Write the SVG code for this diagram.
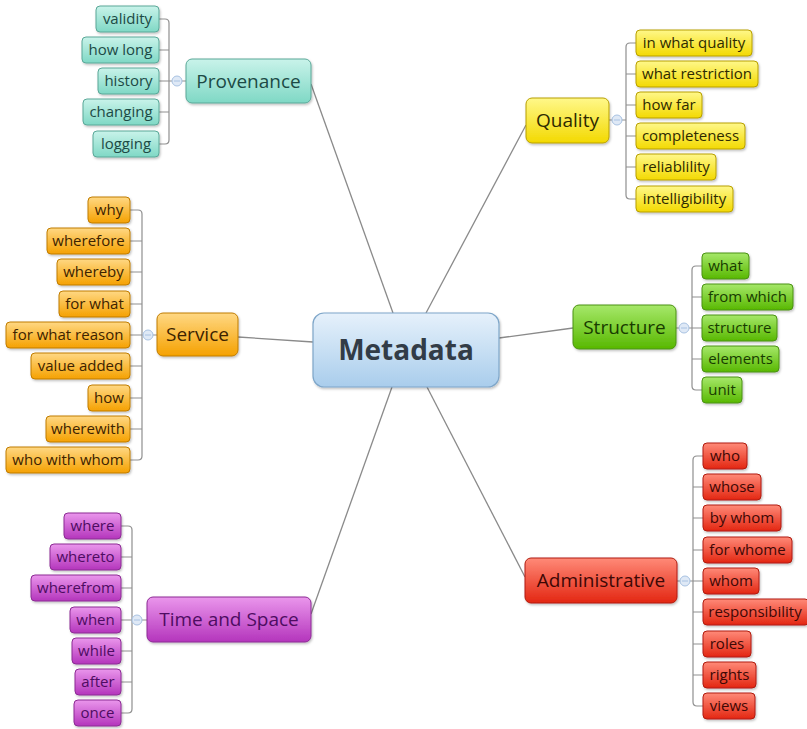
<svg xmlns="http://www.w3.org/2000/svg" width="807" height="729" viewBox="0 0 807 729">
<defs>
<linearGradient id="gTeal" x1="0" y1="0" x2="0" y2="1"><stop offset="0" stop-color="#c9f3ea"/><stop offset="1" stop-color="#7fd8c5"/></linearGradient>
<linearGradient id="gYel" x1="0" y1="0" x2="0" y2="1"><stop offset="0" stop-color="#fff88a"/><stop offset="1" stop-color="#f3d900"/></linearGradient>
<linearGradient id="gOra" x1="0" y1="0" x2="0" y2="1"><stop offset="0" stop-color="#ffd884"/><stop offset="1" stop-color="#f5a100"/></linearGradient>
<linearGradient id="gGrn" x1="0" y1="0" x2="0" y2="1"><stop offset="0" stop-color="#a6e86a"/><stop offset="1" stop-color="#58b800"/></linearGradient>
<linearGradient id="gRed" x1="0" y1="0" x2="0" y2="1"><stop offset="0" stop-color="#ff8a78"/><stop offset="1" stop-color="#e32612"/></linearGradient>
<linearGradient id="gPur" x1="0" y1="0" x2="0" y2="1"><stop offset="0" stop-color="#ea96ec"/><stop offset="1" stop-color="#b435bc"/></linearGradient>
<linearGradient id="gBlue" x1="0" y1="0" x2="0" y2="1"><stop offset="0" stop-color="#e6f1fb"/><stop offset="1" stop-color="#a9cdec"/></linearGradient>
<filter id="sh" x="-10%" y="-20%" width="130%" height="150%"><feDropShadow dx="1" dy="1.5" stdDeviation="1" flood-color="#000" flood-opacity="0.25"/></filter>
</defs>
<style>
text{font-family:"Open Sans","Liberation Sans",sans-serif;text-anchor:middle}
.c text{font-size:15px}
.t text{font-size:19px}
.c rect{filter:url(#sh);stroke-width:1}
.t rect{filter:url(#sh);stroke-width:1}
.teal rect{fill:url(#gTeal);stroke:#5aa898}
.teal text{fill:#1c4a45}
.yel rect{fill:url(#gYel);stroke:#b8a000}
.yel text{fill:#2e2a00}
.ora rect{fill:url(#gOra);stroke:#c07c00}
.ora text{fill:#3d2300}
.grn rect{fill:url(#gGrn);stroke:#4a9212}
.grn text{fill:#183c00}
.red rect{fill:url(#gRed);stroke:#b01c10}
.red text{fill:#3e0805}
.pur rect{fill:url(#gPur);stroke:#8c2a94}
.pur text{fill:#4e0c62}
.ln{fill:none;stroke:#8a8a8a;stroke-width:1.3}
.br{fill:none;stroke:#8f8f8f;stroke-width:1.2}
.knob circle{fill:#dfe9f6;stroke:#a8c2e2;stroke-width:1}
.knob line{stroke:#a8c2e2;stroke-width:1}
</style>

<g id="connectors">
<path class="ln" d="M311,84 L393,313"/>
<path class="ln" d="M526,125 L426,313"/>
<path class="ln" d="M238,337 L313,342"/>
<path class="ln" d="M573,328 L499,338"/>
<path class="ln" d="M311,614 L392,387"/>
<path class="ln" d="M525,577 L427,387"/>
<!-- Provenance bracket -->
<path class="br" d="M159,19 H165 Q169,19 169,23 V140 Q169,144 165,144 H159 M159,50 H169 M159,112 H169 M159,81 H186"/>
<!-- Quality bracket -->
<path class="br" d="M636,43 H630 Q626,43 626,47 V195 Q626,199 630,199 H636 M636,74 H626 M636,105 H626 M636,136 H626 M636,167 H626 M609,120 H626"/>
<!-- Service bracket -->
<path class="br" d="M130,210 H138 Q142,210 142,214 V456 Q142,460 138,460 H130 M130,241 H142 M130,272 H142 M130,304 H142 M130,366 H142 M130,398 H142 M130,429 H142 M130,335 H157"/>
<!-- Structure bracket -->
<path class="br" d="M702,266 H696 Q692,266 692,270 V386 Q692,390 696,390 H702 M702,297 H692 M702,359 H692 M676,328 H702"/>
<!-- Administrative bracket -->
<path class="br" d="M703,456 H697 Q693,456 693,460 V702 Q693,706 697,706 H703 M703,487 H693 M703,518 H693 M703,550 H693 M703,612 H693 M703,644 H693 M703,675 H693 M677,581 H703"/>
<!-- Time and Space bracket -->
<path class="br" d="M121,526 H128 Q132,526 132,530 V709 Q132,713 128,713 H121 M121,557 H132 M121,588 H132 M121,651 H132 M121,682 H132 M121,620 H147"/>
</g>

<g id="knobs" class="knob">
<circle cx="177" cy="81" r="5"/><line x1="174" y1="81" x2="180" y2="81"/>
<circle cx="617" cy="120" r="5"/><line x1="614" y1="120" x2="620" y2="120"/>
<circle cx="148" cy="335" r="5"/><line x1="145" y1="335" x2="151" y2="335"/>
<circle cx="684" cy="328" r="5"/><line x1="681" y1="328" x2="687" y2="328"/>
<circle cx="685" cy="581" r="5"/><line x1="682" y1="581" x2="688" y2="581"/>
<circle cx="137" cy="620" r="5"/><line x1="134" y1="620" x2="140" y2="620"/>
</g>

<g id="metadata">
<rect x="313" y="313" width="186" height="74" rx="11" fill="url(#gBlue)" stroke="#7ea6c9" stroke-width="1.2" filter="url(#sh)"/>
<text x="406" y="360" font-size="28" font-weight="bold" fill="#323c47">Metadata</text>
</g>

<g id="provenance" class="t teal"><rect x="186" y="59" width="125" height="44" rx="6"/><text x="248.5" y="88">Provenance</text></g>
<g id="quality" class="t yel"><rect x="526" y="98" width="83" height="45" rx="6"/><text x="567.5" y="127">Quality</text></g>
<g id="service" class="t ora"><rect x="157" y="313" width="81" height="43" rx="6"/><text x="197.5" y="341">Service</text></g>
<g id="structure" class="t grn"><rect x="573" y="305" width="103" height="44" rx="6"/><text x="624.5" y="334">Structure</text></g>
<g id="administrative" class="t red"><rect x="525" y="558" width="152" height="45" rx="6"/><text x="601" y="587">Administrative</text></g>
<g id="timeandspace" class="t pur"><rect x="147" y="597" width="164" height="45" rx="6"/><text x="229" y="626">Time and Space</text></g>

<g id="provenance-children" class="c teal">
<g id="p-validity"><rect x="96" y="6" width="63" height="26" rx="4"/><text x="127.5" y="24">validity</text></g>
<g id="p-howlong"><rect x="82" y="37" width="77" height="26" rx="4"/><text x="120.5" y="55">how long</text></g>
<g id="p-history"><rect x="98" y="68" width="61" height="26" rx="4"/><text x="128.5" y="86">history</text></g>
<g id="p-changing"><rect x="83" y="99" width="76" height="26" rx="4"/><text x="121" y="117">changing</text></g>
<g id="p-logging"><rect x="93" y="131" width="66" height="26" rx="4"/><text x="126" y="149">logging</text></g>
</g>

<g id="quality-children" class="c yel">
<g id="q-1"><rect x="636" y="30" width="116" height="26" rx="4"/><text x="694" y="48">in what quality</text></g>
<g id="q-2"><rect x="636" y="61" width="122" height="26" rx="4"/><text x="697" y="79">what restriction</text></g>
<g id="q-3"><rect x="636" y="92" width="66" height="26" rx="4"/><text x="669" y="110">how far</text></g>
<g id="q-4"><rect x="636" y="123" width="109" height="26" rx="4"/><text x="690.5" y="141">completeness</text></g>
<g id="q-5"><rect x="636" y="154" width="80" height="26" rx="4"/><text x="676" y="172">reliablility</text></g>
<g id="q-6"><rect x="636" y="186" width="97" height="26" rx="4"/><text x="684.5" y="204">intelligibility</text></g>
</g>

<g id="service-children" class="c ora">
<g id="s-1"><rect x="88" y="197" width="42" height="26" rx="4"/><text x="109" y="215">why</text></g>
<g id="s-2"><rect x="47" y="228" width="83" height="26" rx="4"/><text x="88.5" y="246">wherefore</text></g>
<g id="s-3"><rect x="57" y="259" width="73" height="26" rx="4"/><text x="93.5" y="277">whereby</text></g>
<g id="s-4"><rect x="59" y="291" width="71" height="26" rx="4"/><text x="94.5" y="309">for what</text></g>
<g id="s-5"><rect x="6" y="322" width="124" height="26" rx="4"/><text x="68" y="340">for what reason</text></g>
<g id="s-6"><rect x="31" y="353" width="99" height="26" rx="4"/><text x="80.5" y="371">value added</text></g>
<g id="s-7"><rect x="88" y="385" width="42" height="26" rx="4"/><text x="109" y="403">how</text></g>
<g id="s-8"><rect x="46" y="416" width="84" height="26" rx="4"/><text x="88" y="434">wherewith</text></g>
<g id="s-9"><rect x="6" y="447" width="124" height="26" rx="4"/><text x="68" y="465">who with whom</text></g>
</g>

<g id="structure-children" class="c grn">
<g id="st-1"><rect x="702" y="253" width="47" height="26" rx="4"/><text x="725.5" y="271">what</text></g>
<g id="st-2"><rect x="702" y="284" width="91" height="26" rx="4"/><text x="747.5" y="302">from which</text></g>
<g id="st-3"><rect x="702" y="315" width="75" height="26" rx="4"/><text x="739.5" y="333">structure</text></g>
<g id="st-4"><rect x="702" y="346" width="77" height="26" rx="4"/><text x="740.5" y="364">elements</text></g>
<g id="st-5"><rect x="702" y="377" width="40" height="26" rx="4"/><text x="722" y="395">unit</text></g>
</g>

<g id="administrative-children" class="c red">
<g id="a-1"><rect x="703" y="443" width="44" height="26" rx="4"/><text x="725" y="461">who</text></g>
<g id="a-2"><rect x="703" y="474" width="58" height="26" rx="4"/><text x="732" y="492">whose</text></g>
<g id="a-3"><rect x="703" y="505" width="78" height="26" rx="4"/><text x="742" y="523">by whom</text></g>
<g id="a-4"><rect x="703" y="537" width="89" height="26" rx="4"/><text x="747.5" y="555">for whome</text></g>
<g id="a-5"><rect x="703" y="568" width="56" height="26" rx="4"/><text x="731" y="586">whom</text></g>
<g id="a-6"><rect x="703" y="599" width="106" height="26" rx="4"/><text x="755" y="617">responsibility</text></g>
<g id="a-7"><rect x="703" y="631" width="48" height="26" rx="4"/><text x="727" y="649">roles</text></g>
<g id="a-8"><rect x="703" y="662" width="53" height="26" rx="4"/><text x="729.5" y="680">rights</text></g>
<g id="a-9"><rect x="703" y="693" width="52" height="26" rx="4"/><text x="729" y="711">views</text></g>
</g>

<g id="timeandspace-children" class="c pur">
<g id="ts-1"><rect x="64" y="513" width="57" height="26" rx="4"/><text x="92.5" y="531">where</text></g>
<g id="ts-2"><rect x="50" y="544" width="71" height="26" rx="4"/><text x="85.5" y="562">whereto</text></g>
<g id="ts-3"><rect x="31" y="575" width="90" height="26" rx="4"/><text x="76" y="593">wherefrom</text></g>
<g id="ts-4"><rect x="70" y="607" width="51" height="26" rx="4"/><text x="95.5" y="625">when</text></g>
<g id="ts-5"><rect x="72" y="638" width="49" height="26" rx="4"/><text x="96.5" y="656">while</text></g>
<g id="ts-6"><rect x="75" y="669" width="46" height="26" rx="4"/><text x="98" y="687">after</text></g>
<g id="ts-7"><rect x="74" y="700" width="47" height="26" rx="4"/><text x="97.5" y="718">once</text></g>
</g>
</svg>
